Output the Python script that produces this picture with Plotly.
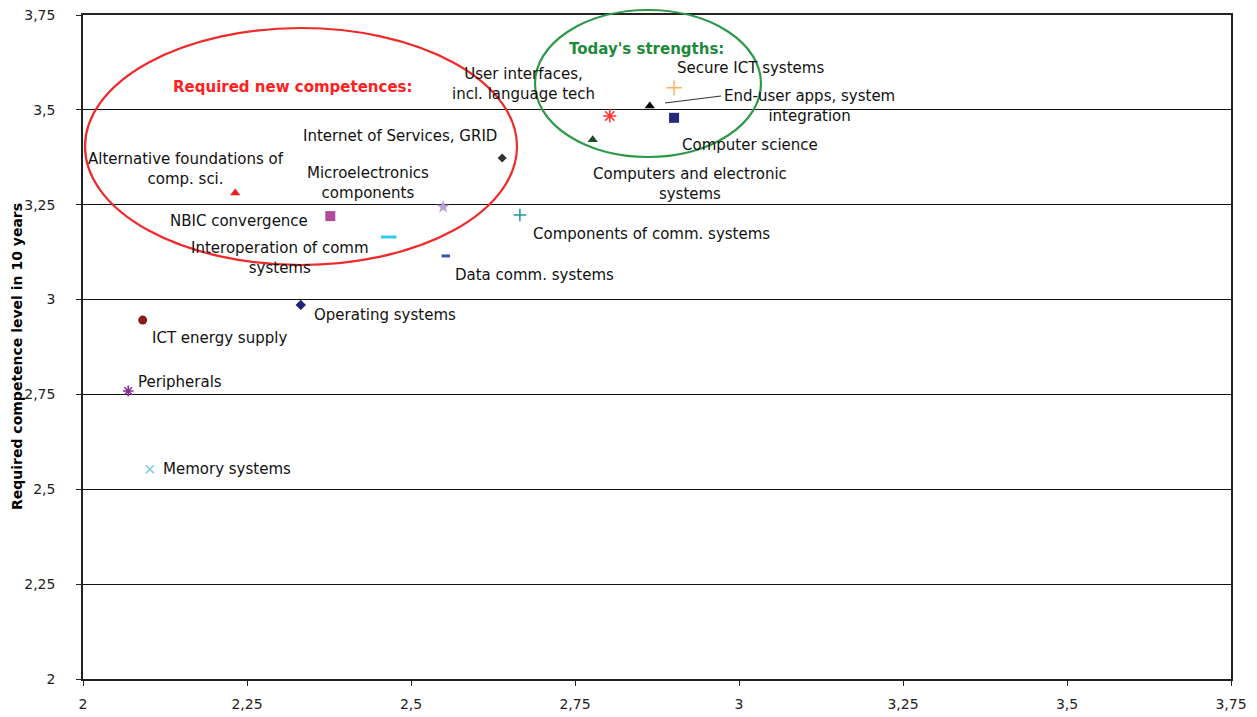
import plotly.graph_objects as go

# ---- data ----
names = [
    "Alternative foundations of<br>comp. sci.",
    "Internet of Services, GRID",
    "NBIC convergence",
    "Microelectronics<br>components",
    "Interoperation of comm<br>systems",
    "Data comm. systems",
    "Components of comm. systems",
    "User interfaces,<br>incl. language tech",
    "End-user apps, system<br>integration",
    "Secure ICT systems",
    "Computer science",
    "Computers and electronic<br>systems",
    "Operating systems",
    "ICT energy supply",
    "Peripherals",
    "Memory systems",
]
x_vals = [2.232, 2.639, 2.377, 2.549, 2.466, 2.553, 2.666, 2.803, 2.864, 2.901,
          2.901, 2.777, 2.332, 2.091, 2.069, 2.102]
y_vals = [3.281, 3.373, 3.220, 3.244, 3.165, 3.115, 3.223, 3.484, 3.510, 3.558,
          3.479, 3.421, 2.986, 2.946, 2.759, 2.553]

tick_vals = [2, 2.25, 2.5, 2.75, 3, 3.25, 3.5, 3.75]
tick_text = ["2", "2,25", "2,5", "2,75", "3", "3,25", "3,5", "3,75"]

# ---- styles ----
marker_styles = [
    dict(symbol="triangle-up", color="#EE1C1C", size=9),
    dict(symbol="diamond", color="#333333", size=7),
    dict(symbol="square", color="#B04C9E", size=10),
    dict(symbol="star", color="#B8A0D8", size=10),
    dict(symbol="line-ew", color="#33CCEE", size=11, line=dict(color="#33CCEE", width=3)),
    dict(symbol="line-ew", color="#3355AA", size=6, line=dict(color="#3355AA", width=3)),
    dict(symbol="cross-thin", color="#1A9A9A", size=9, line=dict(color="#1A9A9A", width=1.5)),
    dict(symbol="asterisk", color="#FF3333", size=11, line=dict(color="#FF3333", width=1.5)),
    dict(symbol="triangle-up", color="#000000", size=9),
    dict(symbol="cross-thin", color="#FFB060", size=11, line=dict(color="#FFB060", width=1.5)),
    dict(symbol="square", color="#26287A", size=10),
    dict(symbol="triangle-up", color="#1F4A28", size=9),
    dict(symbol="diamond", color="#22227A", size=8),
    dict(symbol="circle", color="#8B1A1A", size=9),
    dict(symbol="asterisk", color="#8A2A9A", size=9, line=dict(color="#8A2A9A", width=1.5)),
    dict(symbol="x-thin", color="#77CCE0", size=8, line=dict(color="#77CCE0", width=1.5)),
]
# label offsets in pixels: (xanchor, dx, dy_down)
label_pos = [
    ("center", -49, -24),
    ("center", -102, -22),
    ("center", -91, 5),
    ("center", -75, -24),
    ("center", -109, 21),
    ("left", 7, 19),
    ("left", 11, 19),
    ("center", -86, -32),
    ("center", 160, 0),
    ("left", 1, -20),
    ("left", 6, 27),
    ("center", 97, 44),
    ("left", 11, 10),
    ("left", 7, 18),
    ("left", 8, -9),
    ("left", 11, 0),
]

FONT = "DejaVu Sans, Verdana, sans-serif"
L, R, T, B = 83, 26, 15, 38
W, H = 1257, 717
PW, PH = W - L - R, H - T - B


def px(xp):
    return (xp - L) / PW


def py(yp):
    return (H - B - yp) / PH


fig = go.Figure()
annotations = []
for i, n in enumerate(names):
    fig.add_trace(go.Scatter(x=[x_vals[i]], y=[y_vals[i]], mode="markers",
                             marker=marker_styles[i], name=n.replace("<br>", " "),
                             showlegend=False, hoverinfo="name"))
    xa, dx, dy = label_pos[i]
    annotations.append(dict(x=x_vals[i], y=y_vals[i], xref="x", yref="y",
                            text=n, showarrow=False, xanchor=xa, yanchor="middle",
                            xshift=dx, yshift=-dy,
                            font=dict(family=FONT, size=15, color="#111111")))

annotations += [
    dict(x=px(293), y=py(87), xref="paper", yref="paper", text="<b>Required new competences:</b>",
         showarrow=False, xanchor="center", yanchor="middle",
         font=dict(family=FONT, size=15, color="#FF2020")),
    dict(x=px(646), y=py(49), xref="paper", yref="paper", text="<b>Today's strengths:</b>",
         showarrow=False, xanchor="center", yanchor="middle",
         font=dict(family=FONT, size=15, color="#1E8A3A")),
    dict(x=px(17), y=py(357), xref="paper", yref="paper", text="<b>Required competence level in 10 years</b>",
         textangle=-90, showarrow=False, xanchor="center", yanchor="middle",
         font=dict(family=FONT, size=14, color="#000000")),
]

shapes = [
    dict(type="circle", xref="paper", yref="paper", x0=px(85), x1=px(517), y0=py(265), y1=py(28),
         line=dict(color="#EE2A2A", width=2.2)),
    dict(type="circle", xref="paper", yref="paper", x0=px(535), x1=px(761), y0=py(157), y1=py(10),
         line=dict(color="#2E9A48", width=2.2)),
    dict(type="line", xref="paper", yref="paper", x0=px(665), x1=px(721), y0=py(103), y1=py(96),
         line=dict(color="#333333", width=1.2)),
]

fig.update_layout(
    width=W, height=H,
    margin=dict(l=L, r=R, t=T, b=B, autoexpand=False),
    paper_bgcolor="white", plot_bgcolor="white",
    annotations=annotations, shapes=shapes,
    showlegend=False,
    xaxis=dict(range=[2, 3.75], tickvals=tick_vals, ticktext=tick_text, showgrid=False,
               showline=True, linecolor="#222222", linewidth=1.5, mirror=True,
               ticks="outside", ticklen=5, tickcolor="#222222", zeroline=False,
               ticklabelstandoff=6, automargin=False,
               tickfont=dict(family=FONT, size=14, color="#222222")),
    yaxis=dict(range=[2, 3.75], tickvals=tick_vals, ticktext=tick_text, showgrid=True,
               gridcolor="#111111", gridwidth=1,
               showline=True, linecolor="#222222", linewidth=1.5, mirror=True,
               ticks="outside", ticklen=5, tickcolor="#222222", zeroline=False,
               ticklabelstandoff=18, automargin=False,
               tickfont=dict(family=FONT, size=14, color="#222222")),
)

fig.write_html("out.html")
